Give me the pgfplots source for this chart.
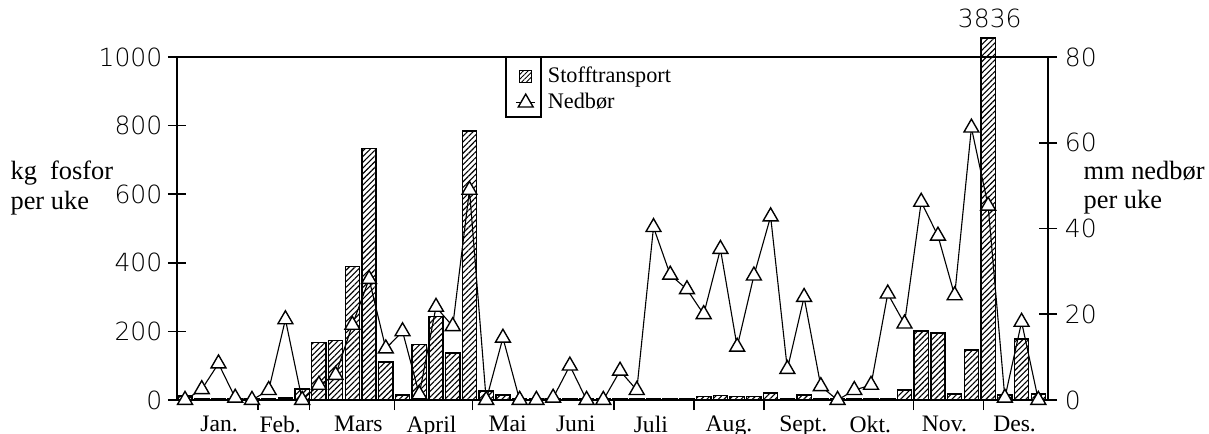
\documentclass[border=0pt]{standalone}
\usepackage{fontspec}
\setmainfont{Liberation Serif}
\newfontfamily\tickfont{DejaVu Sans ExtraLight}
\usepackage{pgfplots}
\pgfplotsset{compat=1.18}
\usepackage{pgfplotstable}
\usetikzlibrary{patterns.meta}
\pgfplotsset{trilegend/.style={legend image code/.code={\draw[mark repeat=2,mark phase=2,##1] plot coordinates {(-3.5pt,0pt)(0pt,0pt)(3.5pt,0pt)};}}}

\pgfplotstableread{
i kg
0 12
1 3
2 3
3 3
4 3
5 4
6 6
7 32
8 167
9 173
10 389
11 734
12 111
13 15
14 161
15 243
16 137
17 784
18 26
19 15
20 5
21 5
22 5
23 4
24 3
25 3
26 3
27 3
28 3
29 3
30 4
31 10
32 14
33 11
34 10
35 20
36 5
37 15
38 4
39 3
40 3
41 3
42 4
43 29
44 201
45 195
46 17
47 146
48 1055
49 15
50 178
51 17
}\bars

\pgfplotstableread{
i mm
0 0
1 2.5
2 8.5
3 0.5
4 0
5 2.3
6 18.8
7 0
8 3.5
9 5.8
10 17.5
11 28.2
12 12
13 16
14 1.3
15 21.7
16 17.2
17 49
18 0
19 14.5
20 0
21 0
22 0.5
23 8
24 0
25 0
26 6.8
27 2.3
28 40.3
29 29.2
30 25.8
31 20
32 35.2
33 12.4
34 29
35 42.8
36 7.2
37 24
38 3.2
39 0
40 2.3
41 3.5
42 24.8
43 17.8
44 46.2
45 38.3
46 24.4
47 63.5
48 45.3
49 0.5
50 18.2
51 0
}\rain

\begin{document}
\begin{tikzpicture}
\pgfplotsset{
  common/.style={
    scale only axis, width=313.56pt, height=123.48pt,
    xmin=-0.48, xmax=51.58, clip=false,
    ticklabel style={font=\tickfont\fontsize{9}{10}\selectfont},
    /pgf/number format/assume math mode=true,
    /pgf/number format/1000 sep={},
    axis line style={line width=0.6pt},
    every tick/.style={black, line width=0.6pt},
    tick align=center, major tick length=6.5pt,
  }
}
\begin{axis}[common,
  ymin=0, ymax=1000, ytick={0,200,...,1000}, ytick pos=left,
  yticklabel style={xshift=1.5pt},
  xtick={2.04,5.69,10.36,14.73,19.28,23.35,27.84,32.51,36.95,40.96,45.39,49.58},
  xticklabels={Jan.,Feb.,Mars,April,Mai,Juni,Juli,Aug.,Sept.,Okt.,Nov.,Des.},
  x tick label style={font=\fontsize{8.5}{10}\selectfont, yshift=1pt},
  xtick pos=bottom, xtick style={draw=none},
  extra x ticks={4.37,7.43,12.51,17.19,25.63,30.42,34.61,43.53,47.72},
  extra x tick style={tick align=outside, major tick length=3.6pt, xtick style={draw=black}, xticklabel={}},
]
\addplot[ybar, bar width=0.85, draw=black, line width=0.5pt,
  pattern={Lines[angle=45,distance=1.45pt,line width=0.4pt]}]
  table[x=i,y=kg]{\bars};
\node[anchor=south, font=\tickfont\fontsize{9}{10}\selectfont] at (axis cs:48.1,1055) {3836};
\node[anchor=west, align=left, inner sep=0pt, font=\fontsize{9.5}{10.5}\selectfont] at (rel axis cs:-0.1917,0.618) {kg\ \ fosfor\\per uke};
\node[anchor=west, align=left, inner sep=0pt, font=\fontsize{9.5}{10.5}\selectfont] at (rel axis cs:1.0402,0.618) {mm nedbør\\per uke};
\coordinate (bl) at (rel axis cs:-0.2032,-0.0991);
\coordinate (tr) at (rel axis cs:1.1848,1.1662);
\end{axis}
\begin{axis}[common,
  ymin=0, ymax=80, ytick={0,20,...,80},
  yticklabel style={xshift=-0.7pt},
  axis x line=none, axis y line*=right,
  legend style={at={(rel axis cs:0.3777,1)}, xshift=3.2pt, anchor=north west, draw=none, fill=none,
    inner xsep=0pt, inner ysep=2pt, font=\fontsize{8}{9}\selectfont, column sep=1.8pt,
    nodes={inner xsep=2.5pt, inner ysep=1.2pt}},
  legend cell align=left,
]
\addlegendimage{legend image code/.code={\draw[black, line width=0.4pt, pattern={Lines[angle=45,distance=1.2pt,line width=0.3pt]}] (-2.2pt,-2.2pt) rectangle (2.2pt,2.2pt);}}
\addlegendentry{Stofftransport}
\addplot[black, line width=0.4pt, mark=triangle*,
  mark options={fill=white, line width=0.5pt, mark size=3.1pt}, trilegend]
  table[x=i,y=mm]{\rain};
\addlegendentry{Nedbør}
\draw[line width=0.5pt] (rel axis cs:0.3777,1) rectangle (rel axis cs:0.4179,0.825);
\end{axis}
\pgfresetboundingbox
\path[use as bounding box] (bl) rectangle (tr);
\end{tikzpicture}
\end{document}
